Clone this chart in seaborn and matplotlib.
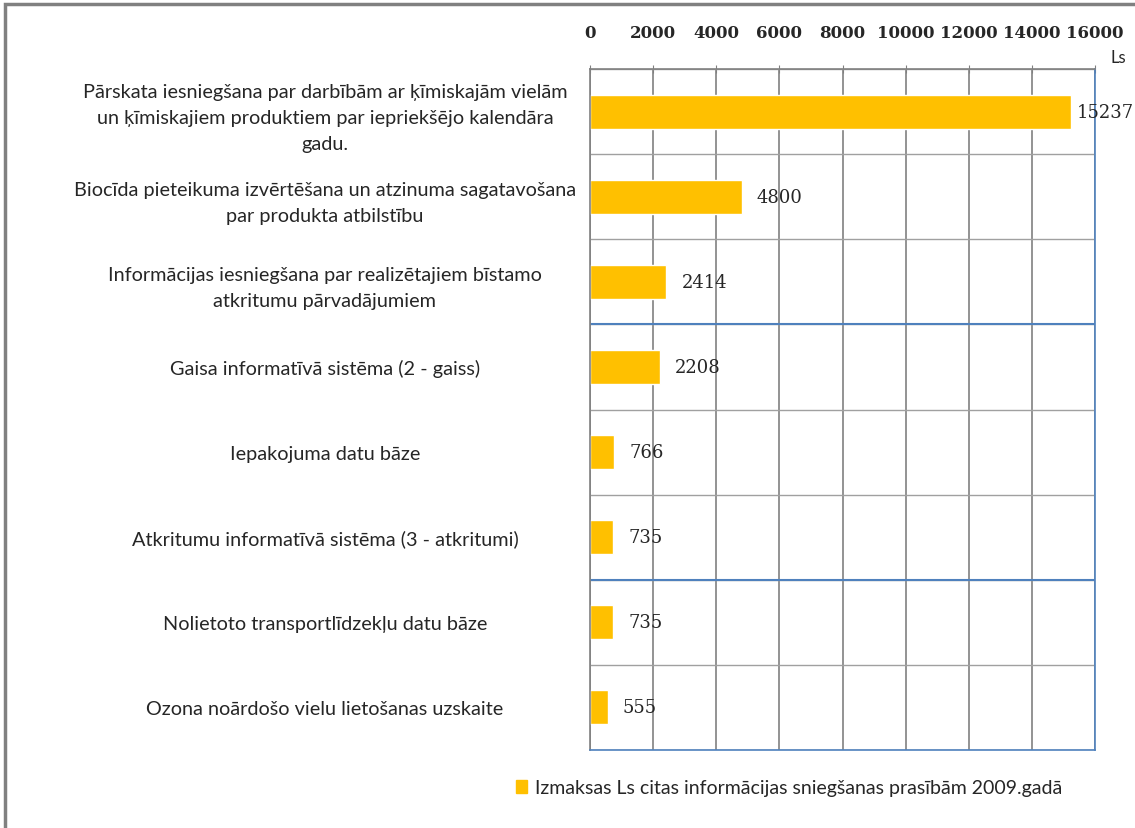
import pandas as pd
import matplotlib.pyplot as plt
import seaborn as sns
from matplotlib.patches import Rectangle

categories = [
    "Pārskata iesniegšana par darbībām ar ķīmiskajām vielām\nun ķīmiskajiem produktiem par iepriekšējo kalendāra\ngadu.",
    "Biocīda pieteikuma izvērtēšana un atzinuma sagatavošana\npar produkta atbilstību",
    "Informācijas iesniegšana par realizētajiem bīstamo\natkritumu pārvadājumiem",
    "Gaisa informatīvā sistēma (2 - gaiss)",
    "Iepakojuma datu bāze",
    "Atkritumu informatīvā sistēma (3 - atkritumi)",
    "Nolietoto transportlīdzekļu datu bāze",
    "Ozona noārdošo vielu lietošanas uzskaite",
]
values = [15237, 4800, 2414, 2208, 766, 735, 735, 555]
series_name = "Izmaksas Ls citas informācijas sniegšanas prasībām 2009.gadā"

df = pd.DataFrame({"Kategorija": categories, "Ls": values})

sns.set_style("white")
fig = plt.figure(figsize=(11.35, 8.29), dpi=100)
ax = fig.add_axes([590 / 1135, 1 - 751 / 829, 505 / 1135, 681 / 829])

bar_color = "#FFC000"
sns.barplot(data=df, x="Ls", y="Kategorija", orient="h", color=bar_color,
            width=0.4, ax=ax, saturation=1)

ax.set_xlim(0, 16000)
ax.set_ylim(7.5, -0.5)
ax.set_xticks(range(0, 16001, 2000))
ax.xaxis.tick_top()
ax.tick_params(axis="x", which="major", length=6, direction="inout", color="#808080",
               pad=17, labelsize=12)
for lbl in ax.get_xticklabels():
    lbl.set_family(["DejaVu Serif"])
    lbl.set_fontweight("bold")
ax.xaxis.grid(True, color="#808080", linewidth=1.2)

# category separators
ax.set_yticks([i + 0.5 for i in range(-1, 8)], minor=True)
ax.yaxis.grid(True, which="minor", color="#A0A0A0", linewidth=1)
for y in [2.5, 5.5]:
    ax.axhline(y, color="#4F81BD", linewidth=1.5)
ax.tick_params(axis="y", which="minor", length=7, color="#808080", direction="out")
ax.tick_params(axis="y", which="major", length=0, pad=0)
for lbl in ax.get_yticklabels():
    lbl.set_family(["Lato", "DejaVu Sans"])
    lbl.set_fontsize(14.3)
    lbl.set_horizontalalignment("center")
    lbl.set_multialignment("center")
    lbl.set_linespacing(1.65)
    lbl.set_transform(ax.get_yaxis_transform())
    lbl.set_position((-0.525, lbl.get_position()[1]))
ax.set_xlabel("")
ax.set_ylabel("")

for side in ["top", "left"]:
    ax.spines[side].set_color("#808080")
    ax.spines[side].set_linewidth(1.2)
for side in ["right", "bottom"]:
    ax.spines[side].set_color("#4F81BD")
    ax.spines[side].set_linewidth(1.2)

for i, v in enumerate(values):
    off = 4 if v > 14000 else 11
    ax.annotate(str(v), xy=(v, i), xytext=(off, 0), textcoords="offset points",
                va="center", ha="left", fontsize=13, family=["DejaVu Serif"])

fig.text(1118 / 1135, 1 - 58 / 829, "Ls", fontsize=12, ha="center", va="center",
         family=["Lato", "DejaVu Sans"])

fig.legend(handles=[Rectangle((0, 0), 1, 1, color=bar_color)], labels=[series_name],
           loc="center left", bbox_to_anchor=(498 / 1135, 1 - 789 / 829), frameon=False,
           handlelength=0.6, handleheight=0.6, handletextpad=0.4,
           prop={"family": ["Lato", "DejaVu Sans"], "size": 14})

fig.patches.append(Rectangle((5 / 1135, -0.1), 1.5, 1.1 - 5 / 829, transform=fig.transFigure,
                             fill=False, edgecolor="#808080", linewidth=2.5))

plt.savefig("out.png", dpi=100)
plt.close()
